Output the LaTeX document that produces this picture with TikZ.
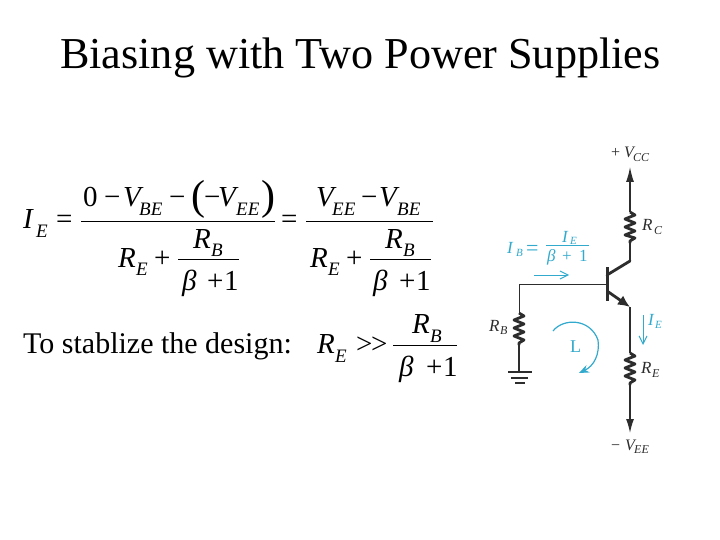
\documentclass[tikz,border=0pt]{standalone}
\usepackage{fontspec}
\setmainfont{Liberation Serif}
\usetikzlibrary{arrows.meta}
\definecolor{cy}{RGB}{50,170,205}
\definecolor{ink}{RGB}{45,45,45}
\newcommand{\fs}[1]{\fontsize{#1}{#1}\selectfont}
\tikzset{
 x=1pt,y=-1pt,
 txt/.style={inner sep=0pt,anchor=base west,text=black},
 big/.style={txt,font=\fs{29}},
 bigi/.style={txt,font=\fs{29}\itshape},
 subi/.style={txt,font=\fs{19}\itshape},
 wire/.style={draw=ink,line width=1.3pt},
 res/.style={draw=ink,line width=2.8pt,line join=round},
 cwire/.style={draw=cy,line width=.8pt},
 lab/.style={inner sep=0pt,anchor=base west,text=ink},
 clab/.style={inner sep=0pt,anchor=base west,text=cy},
 frac/.style={draw=black,line width=.7pt},
}
\begin{document}
\begin{tikzpicture}
\useasboundingbox (0,0) rectangle (720,540);
\fill[white] (0,0) rectangle (720,540);
\node[txt,font=\fs{44.15}] (title) at (60,69) {Biasing with Two Power Supplies};
% main equation
\node[bigi] at (23,229) {I};
\node[subi] at (36,237) {E};
\node[big] at (56,229) {=};
\node[big] at (83,207) {0};
\node[big] at (104,207) {−};
\node[bigi] at (123,207) {V};
\node[subi] at (139,215) {BE};
\node[big] at (169,207) {−};
\node[txt,font=\fs{42}] at (191,210) {(};
\node[big] at (204,207) {−};
\node[bigi] at (218,207) {V};
\node[subi] at (236,215) {EE};
\node[txt,font=\fs{42}] at (261,210) {)};
\coordinate (f1a) at (81,221.5); \coordinate (f1b) at (275,221.5);
\draw[frac] (f1a) -- (f1b);
\node[bigi] at (118,267) {R};
\node[subi] at (136,275) {E};
\node[big] at (154,267) {+};
\node[bigi] at (193,248) {R};
\node[subi] at (211,256) {B};
\coordinate (f2a) at (178,259); \coordinate (f2b) at (239,259);
\draw[frac] (f2a) -- (f2b);
\node[bigi] at (182,290) {β};
\node[big] at (207,290) {+};
\node[big] at (224,290) {1};
\node[big] at (281,229) {=};
\node[bigi] at (316,207) {V};
\node[subi] at (332,215) {EE};
\node[big] at (361,207) {−};
\node[bigi] at (379,207) {V};
\node[subi] at (397,215) {BE};
\coordinate (f3a) at (306,221.5); \coordinate (f3b) at (433,221.5);
\draw[frac] (f3a) -- (f3b);
\node[bigi] at (310,267) {R};
\node[subi] at (328,275) {E};
\node[big] at (346,267) {+};
\node[bigi] at (385,248) {R};
\node[subi] at (403,256) {B};
\coordinate (f4a) at (370,259); \coordinate (f4b) at (431,259);
\draw[frac] (f4a) -- (f4b);
\node[bigi] at (373,290) {β};
\node[big] at (399,290) {+};
\node[big] at (416,290) {1};
% second line
\node[txt,font=\fs{30}] (stab) at (23,353) {To stablize the design:};
\node[bigi] at (317,353) {R};
\node[subi] at (335,362) {E};
\node[big] at (356,353) {>{}\kern-1.5pt>};
\node[bigi] at (412,333) {R};
\node[subi] at (430,342) {B};
\coordinate (f5a) at (393,345); \coordinate (f5b) at (457,345);
\draw[frac] (f5a) -- (f5b);
\node[bigi] at (399,376) {β};
\node[big] at (426,376) {+};
\node[big] at (443,376) {1};
% circuit
\coordinate (vcc) at (630,167);
\coordinate (rct) at (630,212);
\coordinate (rcb) at (630,243);
\coordinate (c) at (630,261);
\coordinate (bc) at (607,275);
\coordinate (bt) at (607,267);
\coordinate (bb) at (607,301);
\coordinate (bm) at (607,284);
\coordinate (corner) at (519,284);
\coordinate (rbt) at (519,313);
\coordinate (rbb) at (519,345);
\coordinate (gnd) at (519,372);
\coordinate (be) at (607,291);
\coordinate (e) at (630,307);
\coordinate (ret) at (630,353);
\coordinate (reb) at (630,385);
\coordinate (vee) at (630,433);
\draw[wire,-{Latex[length=15pt,width=8pt]}] (rct) -- (vcc);
\draw[res] (rct) -- ++(5,3) -- ++(-10,4) -- ++(10,4) -- ++(-10,4) -- ++(10,4) -- ++(-10,4) -- ++(10,3) -- ++(-5,3) -- (rcb);
\draw[wire,line width=1.6pt] (rcb) -- (c);
\draw[line width=2.8pt,draw=ink,line cap=round] (c) -- (bc);
\draw[line width=3pt,draw=ink] (bt) -- (bb);
\draw[draw=ink,line width=.9pt] (bm) -- (corner) -- (rbt);
\draw[res] (rbt) -- ++(5,3) -- ++(-10,4) -- ++(10,4) -- ++(-10,4) -- ++(10,4) -- ++(-10,4) -- ++(10,4) -- ++(-5,3) -- (rbb);
\draw[wire] (rbb) -- (gnd);
\draw[line width=2pt,draw=ink] (508,372) -- (532,372);
\draw[line width=2pt,draw=ink] (511,377.5) -- (528,377.5);
\draw[line width=2pt,draw=ink] (515,383) -- (525,383);
\draw[line width=2.8pt,draw=ink,-{Latex[length=12pt,width=11pt]}] (be) -- (e);
\draw[wire] (e) -- (ret);
\draw[res] (ret) -- ++(5,3) -- ++(-10,4) -- ++(10,4) -- ++(-10,4) -- ++(10,4) -- ++(-10,4) -- ++(10,4) -- ++(-5,3) -- (reb);
\draw[wire,-{Latex[length=14pt,width=8pt]}] (reb) -- (vee);
% circuit labels
\node[lab,font=\fs{16}] at (611,158) {+};
\node[lab,font=\fs{16}\itshape] at (624,158) {V};
\node[lab,font=\fs{12}\itshape] at (633,162) {CC};
\node[lab,font=\fs{17}\itshape] at (642,230) {R};
\node[lab,font=\fs{12}\itshape] at (654,235) {C};
\node[lab,font=\fs{17}\itshape] at (489,331) {R};
\node[lab,font=\fs{12}\itshape] at (500,334) {B};
\node[lab,font=\fs{17}\itshape] at (641,373) {R};
\node[lab,font=\fs{12}\itshape] at (652,377) {E};
\node[lab,font=\fs{16}] at (611,450) {−};
\node[lab,font=\fs{16}\itshape] at (625,450) {V};
\node[lab,font=\fs{12}\itshape] at (634,453) {EE};
% cyan labels
\node[clab,font=\fs{17}\itshape] at (507,253) {I};
\node[clab,font=\fs{11}\itshape] at (516,256) {B};
\node[clab,font=\fs{22}] at (526,255) {=};
\node[clab,font=\fs{17}\itshape] at (562,242) {I};
\node[clab,font=\fs{11}\itshape] at (570,244) {E};
\coordinate (f6a) at (546,245); \coordinate (f6b) at (589,245);
\draw[cwire,line width=1pt] (f6a) -- (f6b);
\node[clab,font=\fs{17}\itshape] at (547,261) {β};
\node[clab,font=\fs{17}] at (562,261) {+};
\node[clab,font=\fs{17}] at (579,261) {1};
\coordinate (ibs) at (534,275); \coordinate (ibe) at (569,275);
\draw[cwire,line width=1pt,-{Straight Barb[length=8pt,width=8pt]}] (ibs) -- (ibe);
\coordinate (ies) at (643,315); \coordinate (iee) at (643,345);
\draw[cwire,line width=1pt,-{Straight Barb[length=8pt,width=8pt]}] (ies) -- (iee);
\node[clab,font=\fs{17}\itshape] at (648,325) {I};
\node[clab,font=\fs{11}\itshape] at (655,328) {E};
\node[clab,font=\fs{18}] at (570,352) {L};
\coordinate (ls) at (553,331); \coordinate (le) at (579,373);
\draw[cwire,line width=1.2pt,-{Stealth[length=10pt,width=8pt]}] (ls) .. controls (563,318) and (590,318) .. (598,340) .. controls (600,354) and (594,366) .. (le);
\end{tikzpicture}
\end{document}
